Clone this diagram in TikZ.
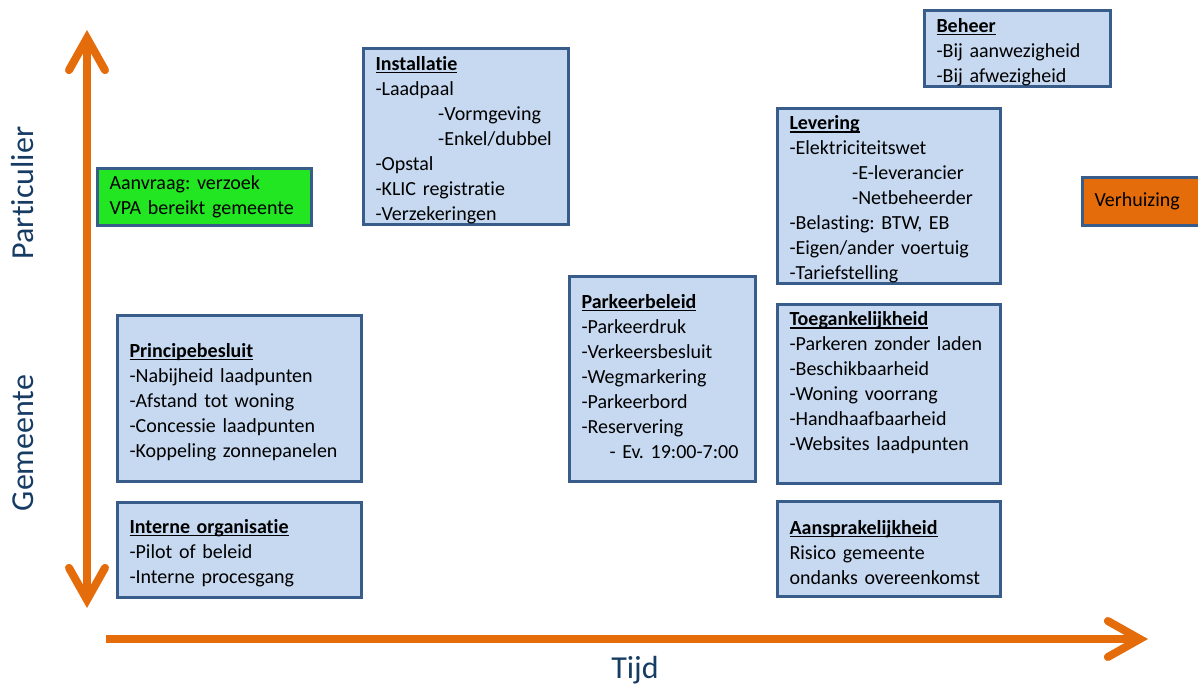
\documentclass[tikz,border=0pt]{standalone}
\usepackage{fontspec}
\setmainfont{Carlito}[Ligatures = NoCommon]
\usetikzlibrary{arrows.meta}
\frenchspacing

\definecolor{blokvul}{RGB}{198,217,241}
\definecolor{blokrand}{RGB}{56,93,138}
\definecolor{oranje}{RGB}{228,108,10}
\definecolor{groen}{RGB}{34,230,34}
\definecolor{asblauw}{RGB}{23,60,100}

\newsavebox{\kopbox}
\newcommand{\kopje}[1]{\sbox{\kopbox}{\textbf{#1}}%
  \rule{0pt}{16pt}\rlap{\usebox{\kopbox}}\rule[-2pt]{\wd\kopbox}{0.9pt}}

\begin{document}
\begin{tikzpicture}[
  x = 0.75pt, y = -0.75pt,
  blok/.style = {
    draw = blokrand, fill = blokvul, line width = 2.25pt,
    inner xsep = 9pt, inner ysep = 0pt, align = left,
    font = \fontsize{15}{18.75}\selectfont},
  aspijl/.style = {
    draw = oranje, line width = 6pt,
    arrows = {-Straight Barb[length = 24pt, width = 27pt,
      line cap = round, line join = miter]}},
  aslabel/.style = {
    text = asblauw, font = \fontsize{24}{28}\selectfont}
  ]
  \useasboundingbox (0,0) rectangle (1198,686);

  \coordinate (boven) at (87,30);
  \coordinate (onder) at (87,608);
  \coordinate (start) at (106,639);
  \coordinate (eind) at (1148,639);

  \draw [aspijl, arrows = {Straight Barb[length = 24pt, width = 27pt,
    line cap = round, line join = miter]-Straight Barb[length = 24pt,
    width = 27pt, line cap = round, line join = miter]}] (onder) -- (boven);
  \draw [aspijl] (start) -- (eind);

  \node [aslabel, rotate = 90, anchor = base] (particulier) at (33,193) {Particulier};
  \node [aslabel, rotate = 90, anchor = base] (gemeente) at (33,443) {Gemeente};
  \node [aslabel, anchor = base] (tijd) at (635,678) {Tijd};

  \node [blok, fill = groen, text width = 142.5pt, minimum height = 42.75pt]
    (aanvraag) at (204.5,197) {Aanvraag: verzoek\\VPA bereikt gemeente};
  \node [blok, text width = 135.75pt, minimum height = 132pt]
    (installatie) at (466,136.5) {\kopje{Installatie}\\
      -Laadpaal\\
      \hspace*{47pt}-Vormgeving\\
      \hspace*{47pt}-Enkel/dubbel\\
      -Opstal\\
      -KLIC registratie\\
      -Verzekeringen};
  \node [blok, text width = 121.5pt, minimum height = 57pt]
    (beheer) at (1017.5,48.5) {\kopje{Beheer}\\
      -Bij aanwezigheid\\
      -Bij afwezigheid};
  \node [blok, text width = 149.25pt, minimum height = 131.25pt]
    (levering) at (889,196) {\kopje{Levering}\\
      -Elektriciteitswet\\
      \hspace*{47pt}-E-leverancier\\
      \hspace*{47pt}-Netbeheerder\\
      -Belasting: BTW, EB\\
      -Eigen/ander voertuig\\
      -Tariefstelling};
  \node [blok, fill = oranje, text width = 73.5pt, minimum height = 36pt]
    (verhuizing) at (1143.5,201.5) {Verhuizing};
  \node [blok, text width = 121.5pt, minimum height = 153.75pt]
    (parkeerbeleid) at (662.5,379) {\kopje{Parkeerbeleid}\\
      -Parkeerdruk\\
      -Verkeersbesluit\\
      -Wegmarkering\\
      -Parkeerbord\\
      -Reservering\\
      \hspace*{21pt}- Ev. 19:00-7:00\rule[-9pt]{0pt}{0pt}};
  \node [blok, text width = 149.25pt, minimum height = 131.25pt]
    (toegankelijkheid) at (889,394) {\kopje{Toegankelijkheid}\\
      -Parkeren zonder laden\\
      -Beschikbaarheid\\
      -Woning voorrang\\
      -Handhaafbaarheid\\
      -Websites laadpunten\\
      \strut};
  \node [blok, text width = 149.25pt, minimum height = 71.25pt]
    (aansprakelijkheid) at (889,549) {\kopje{Aansprakelijkheid}\\
      Risico gemeente\\
      ondanks overeenkomst};
  \node [blok, text width = 165pt, minimum height = 124.5pt]
    (principebesluit) at (239.5,398.5) {\kopje{Principebesluit}\\
      -Nabijheid laadpunten\\
      -Afstand tot woning\\
      -Concessie laadpunten\\
      -Koppeling zonnepanelen};
  \node [blok, text width = 165pt, minimum height = 71.25pt]
    (interne) at (239.5,549.5) {\kopje{Interne organisatie}\\
      -Pilot of beleid\\
      -Interne procesgang};
\end{tikzpicture}
\end{document}
